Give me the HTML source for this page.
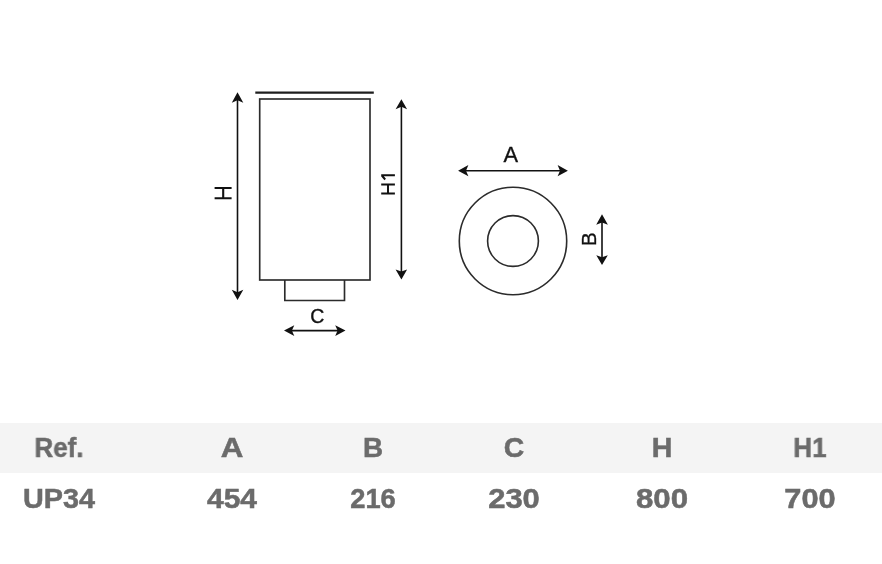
<!DOCTYPE html>
<html>
<head>
<meta charset="utf-8">
<style>
html,body{margin:0;padding:0;background:#fff;}
body{width:882px;height:564px;position:relative;overflow:hidden;font-family:"Liberation Sans",sans-serif;}
svg{position:absolute;left:0;top:0;will-change:transform;}
.band{position:absolute;left:0;top:423px;width:882px;height:50px;background:#f4f4f4;}
.t{position:absolute;font-weight:bold;font-size:27px;color:#6b6b6b;line-height:30px;height:30px;white-space:nowrap;-webkit-text-stroke:0.5px #6b6b6b;will-change:transform;}
</style>
</head>
<body>
<svg width="882" height="564" viewBox="0 0 882 564">
  <g fill="none" stroke="#2b2b2b" stroke-width="1.65">
    <line x1="255.3" y1="92.6" x2="373.8" y2="92.6" stroke-width="2.3" stroke="#1e1e1e"/>
    <rect x="259.7" y="99" width="110.3" height="181"/>
    <polyline points="284.8,280 284.8,300.5 344.5,300.5 344.5,280"/>
    <circle cx="513" cy="241" r="53.7" stroke-width="1.6"/>
    <circle cx="513" cy="241" r="25.4" stroke-width="1.6"/>
  </g>
  <g stroke="#111" stroke-width="1.6" fill="#111">
    <!-- H arrow -->
    <line x1="237.5" y1="98" x2="237.5" y2="294"/>
    <path stroke="none" d="M237.5,92.2 L231.8,102.8 L237.5,100.2 L243.3,102.8 Z"/>
    <path stroke="none" d="M237.5,300 L231.8,289.8 L237.5,292.2 L243.3,289.8 Z"/>
    <!-- H1 arrow -->
    <line x1="401.4" y1="105" x2="401.4" y2="274"/>
    <path stroke="none" d="M401.4,99.2 L395.6,109.2 L401.4,106.8 L407.1,109.2 Z"/>
    <path stroke="none" d="M401.4,279.6 L395.6,269.4 L401.4,271.6 L407.1,269.4 Z"/>
    <!-- C arrow -->
    <line x1="290" y1="330.6" x2="339.5" y2="330.6"/>
    <path stroke="none" d="M284,330.6 L294.3,325.2 L291.9,330.6 L294.3,336 Z"/>
    <path stroke="none" d="M345.5,330.6 L335.2,325.2 L337.6,330.6 L335.2,336 Z"/>
    <!-- A arrow -->
    <line x1="464" y1="170.7" x2="562" y2="170.7"/>
    <path stroke="none" d="M458.1,170.7 L468.4,165.1 L466,170.7 L468.4,176.3 Z"/>
    <path stroke="none" d="M567.9,170.7 L557.6,165.1 L560,170.7 L557.6,176.3 Z"/>
    <!-- B arrow -->
    <line x1="602" y1="220" x2="602" y2="260"/>
    <path stroke="none" d="M602,214.2 L596.2,224.8 L602,222.6 L607.9,224.8 Z"/>
    <path stroke="none" d="M602,265.1 L596.3,255.2 L602,257.2 L607.8,255.2 Z"/>
  </g>
  <g fill="none" stroke="#111" stroke-width="2.1">
    <path d="M214.6,188 H231.6 M214.6,198.2 H231.6 M223.2,188 V198.2"/>
    <path d="M381.2,184.4 H394.9 M381.2,193.5 H394.9 M388,184.4 V193.5" stroke-width="1.95"/>
    <path d="M381.2,175.2 H394.9 M381.8,175.5 L385.2,179.5" stroke-width="1.95"/>
  </g>
  <g fill="#111" stroke="#111" stroke-width="0.35" font-family="Liberation Sans" text-anchor="middle">
    
    
    <text x="317.3" y="323" font-size="19.5">C</text>
    <text x="510.8" y="162.1" font-size="21.8">A</text>
    <text x="0" y="0" font-size="20.5" transform="translate(596.1,239.2) rotate(-90)">B</text>
  </g>
</svg>
<div class="band"></div>
<div class="t" style="left:59.2px;top:433px;transform:translateX(-50%) scaleX(0.96);">Ref.</div>
<div class="t" style="left:231.6px;top:433px;transform:translateX(-50%) scaleX(1.16);">A</div>
<div class="t" style="left:372.9px;top:433px;transform:translateX(-50%) scaleX(1.030);">B</div>
<div class="t" style="left:513.9px;top:433px;transform:translateX(-50%) scaleX(1.05);">C</div>
<div class="t" style="left:662.2px;top:433px;transform:translateX(-50%) scaleX(1.059);">H</div>
<div class="t" style="left:809.7px;top:433px;transform:translateX(-50%) scaleX(0.965);">H1</div>
<div class="t" style="left:59.1px;top:484px;transform:translateX(-50%) scaleX(1.065);">UP34</div>
<div class="t" style="left:231.9px;top:484px;transform:translateX(-50%) scaleX(1.11);">454</div>
<div class="t" style="left:372.9px;top:484px;transform:translateX(-50%) scaleX(1.011);">216</div>
<div class="t" style="left:513.8px;top:484px;transform:translateX(-50%) scaleX(1.146);">230</div>
<div class="t" style="left:661.8px;top:484px;transform:translateX(-50%) scaleX(1.156);">800</div>
<div class="t" style="left:810.1px;top:484px;transform:translateX(-50%) scaleX(1.14);">700</div>
</body>
</html>
